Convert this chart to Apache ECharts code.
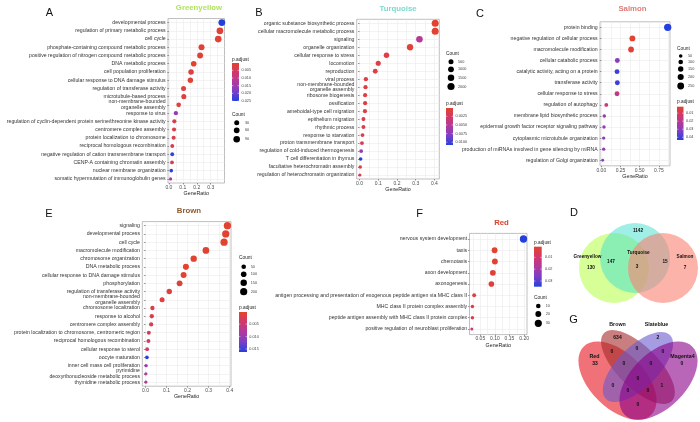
<!DOCTYPE html>
<html>
<head>
<meta charset="utf-8">
<script src="https://cdn.jsdelivr.net/npm/echarts@6.0.0/dist/echarts.min.js"></script>
<style>
html,body{margin:0;padding:0;background:#ffffff;}
#chart{width:700px;height:422px;}
</style>
</head>
<body>
<div id="chart"></div>
<script>
// ---------------- DATA ----------------
// Panel A : Greenyellow
const catsA = ['developmental process','regulation of primary metabolic process','cell cycle',
 'phosphate-containing compound metabolic process','positive regulation of nitrogen compound metabolic process',
 'DNA metabolic process','cell population proliferation','cellular response to DNA damage stimulus',
 'regulation of transferase activity','microtubule-based process','non-membrane-bounded\norganelle assembly',
 'response to virus','regulation of cyclin-dependent protein serine/threonine kinase activity',
 'centromere complex assembly','protein localization to chromosome','reciprocal homologous recombination',
 'negative regulation of cation transmembrane transport','CENP-A containing chromatin assembly',
 'nuclear membrane organization','somatic hypermutation of immunoglobulin genes'];
const ratioA = [0.380,0.366,0.354,0.234,0.224,0.178,0.159,0.154,0.105,0.107,0.070,0.050,0.039,0.037,0.034,0.024,0.024,0.022,0.017,0.012];
const padjA  = [0.0250,0.0010,0.0005,0.0010,0.0012,0.0002,0.0020,0.0008,0.0020,0.0022,0.0012,0.0160,0.0030,0.0025,0.0032,0.0040,0.0235,0.0042,0.0240,0.0130];
const tickA = ['0.0','0.1','0.2','0.3'];
const gridLineA = [0,0.05,0.1,0.15,0.2,0.25,0.3,0.35];
const countLegA = [30,60,90];
const pLegA = ['0.005','0.010','0.015','0.020','0.025'];

// Panel B : Turquoise
const catsB = ['organic substance biosynthetic process','cellular macromolecule metabolic process','signaling',
 'organelle organization','cellular response to stress','locomotion','reproduction','viral process',
 'non-membrane-bounded\norganelle assembly','ribosome biogenesis','ossification','ameboidal-type cell migration',
 'epithelium migration','rhythmic process','response to starvation','proton transmembrane transport',
 'regulation of cold-induced thermogenesis','T cell differentiation in thymus',
 'facultative heterochromatin assembly','regulation of heterochromatin organization'];
const ratioB = [0.404,0.404,0.320,0.270,0.144,0.100,0.084,0.034,0.032,0.030,0.030,0.029,0.021,0.021,0.016,0.013,0.009,0.006,0.004,0.002];
const padjB  = [0.0001,0.0003,0.0050,0.0005,0.0010,0.0010,0.0008,0.0010,0.0010,0.0008,0.0010,0.0010,0.0015,0.0015,0.0015,0.0020,0.0070,0.0108,0.0015,0.0022];
const tickB = ['0.0','0.1','0.2','0.3','0.4'];
const gridLineB = [0,0.05,0.1,0.15,0.2,0.25,0.3,0.35,0.4];
const countLegB = [500,1000,1500,2000];
const pLegB = ['0.0025','0.0050','0.0075','0.0100'];

// Panel C : Salmon
const catsC = ['protein binding','negative regulation of cellular process','macromolecule modification',
 'cellular catabolic process','catalytic activity, acting on a protein','transferase activity',
 'cellular response to stress','regulation of autophagy','membrane lipid biosynthetic process',
 'epidermal growth factor receptor signaling pathway','cytoplasmic microtubule organization',
 'production of miRNAs involved in gene silencing by miRNA','regulation of Golgi organization'];
const ratioC = [0.865,0.405,0.388,0.209,0.205,0.209,0.205,0.065,0.039,0.035,0.031,0.031,0.018];
const padjC  = [0.0434,0.0020,0.0035,0.0300,0.0400,0.0410,0.0170,0.0150,0.0270,0.0275,0.0280,0.0280,0.0310];
const tickC = ['0.00','0.25','0.50','0.75'];
const gridLineC = [0,0.125,0.25,0.375,0.5,0.625,0.75,0.875];
const countLegC = [50,100,150,200,250];
const pLegC = ['0.01','0.02','0.03','0.04'];

// Panel E : Brown
const catsE = ['signaling','developmental process','cell cycle','macromolecule modification','chromosome organization',
 'DNA metabolic process','cellular response to DNA damage stimulus','phosphorylation','regulation of transferase activity',
 'non-membrane-bounded\norganelle assembly','chromosome localization','response to alcohol','centromere complex assembly',
 'protein localization to chromosome, centromeric region','reciprocal homologous recombination','cellular response to sterol',
 'oocyte maturation','inner cell mass cell proliferation','pyrimidine\ndeoxyribonucleoside metabolic process','thymidine metabolic process'];
const ratioE = [0.389,0.381,0.373,0.287,0.229,0.192,0.181,0.162,0.113,0.079,0.033,0.030,0.027,0.016,0.014,0.008,0.007,0.003,0.002,0.002];
const padjE  = [0.0002,0.0003,0.0001,0.0005,0.0003,0.0002,0.0004,0.0008,0.0010,0.0012,0.0020,0.0020,0.0022,0.0030,0.0030,0.0040,0.0162,0.0095,0.0080,0.0080];
const tickE = ['0.0','0.1','0.2','0.3','0.4'];
const gridLineE = [0,0.05,0.1,0.15,0.2,0.25,0.3,0.35,0.4];
const countLegE = [50,100,150,200];
const pLegE = ['0.005','0.010','0.015'];

// Panel F : Red
const catsF = ['nervous system development','taxis','chemotaxis','axon development','axonogenesis',
 'antigen processing and presentation of exogenous peptide antigen via MHC class II',
 'MHC class II protein complex assembly','peptide antigen assembly with MHC class II protein complex',
 'positive regulation of neuroblast proliferation'];
const ratioF = [0.198,0.099,0.100,0.093,0.088,0.029,0.023,0.023,0.021];
const padjF  = [0.0348,0.0010,0.0012,0.0025,0.0028,0.0040,0.0050,0.0050,0.0120];
const tickF = ['0.05','0.10','0.15','0.20'];
const gridLineF = [0.025,0.05,0.075,0.1,0.125,0.15,0.175,0.2];
const countLegF = [10,20,30];
const pLegF = ['0.01','0.02','0.03'];

// Panel D : Venn (Greenyellow, Turquoise, Salmon)
const vennDSets = ['Greenyellow','Turquoise','Salmon'];
const vennDRegions = ['Greenyellow only','Turquoise only','Salmon only','Greenyellow & Turquoise','Turquoise & Salmon','all three'];
const vennDCounts = [130,1142,7,147,15,3];

// Panel G : Venn (Red, Brown, Slateblue, Magenta4)
const vennGSets = ['Red','Brown','Slateblue','Magenta4'];
const vennGRegions = ['Brown only','Slateblue only','Red only','Magenta4 only','Red&Brown','Brown&Slateblue',
 'Slateblue&Magenta4','Red&Brown&Slateblue','Brown&Slateblue&Magenta4','all four','Red&Slateblue',
 'Red&Slateblue&Magenta4','Brown&Magenta4','Red&Brown&Magenta4','Red&Magenta4'];
const vennGCounts = [634,2,33,0,0,0,0,0,0,0,0,0,1,0,0];

// ---------------- LAYOUT / STYLE ----------------
const FONT = '"Liberation Sans", Arial, Helvetica, sans-serif';
const PAL = ['#E2432F','#D2376C','#B0399E','#7A3FC6','#2340DE'];

const panels = [
 {cats:catsA, ratio:ratioA, padj:padjA, ticks:tickA, lines:gridLineA, dec:1,
  left:168, top:18.5, width:56.5, height:164.5, min:-0.0065, max:0.399, size:[3.2,6.8]},
 {cats:catsB, ratio:ratioB, padj:padjB, ticks:tickB, lines:gridLineB, dec:1,
  left:356.7, top:19.3, width:82.6, height:159.7, min:-0.015, max:0.426, size:[3.2,7.0]},
 {cats:catsC, ratio:ratioC, padj:padjC, ticks:tickC, lines:gridLineC, dec:2,
  left:600, top:21.8, width:70, height:144, min:-0.017, max:0.895, size:[2.8,7.3]},
 {cats:catsE, ratio:ratioE, padj:padjE, ticks:tickE, lines:gridLineE, dec:1,
  left:142.3, top:221.6, width:88.7, height:164.6, min:-0.015, max:0.406, size:[3.2,7.3]},
 {cats:catsF, ratio:ratioF, padj:padjF, ticks:tickF, lines:gridLineF, dec:2,
  left:469.5, top:233.4, width:57.5, height:101.2, min:0.013, max:0.21, size:[3.0,7.3]}
];

const grids = [], xAxes = [], yAxes = [], series = [], visualMaps = [];
panels.forEach(function (p, k) {
  const tickNums = p.ticks.map(parseFloat);
  const lo = Math.min.apply(null, p.ratio), hi = Math.max.apply(null, p.ratio);
  p.pmin = Math.min.apply(null, p.padj); p.pmax = Math.max.apply(null, p.padj);
  grids.push({left:p.left, top:p.top, width:p.width, height:p.height, show:true,
    borderColor:'#A3A3A3', borderWidth:0.7, backgroundColor:'rgba(0,0,0,0)', outerBoundsMode:'none'});
  xAxes.push({gridIndex:k, type:'value', position:'bottom', min:p.min, max:p.max,
    axisLine:{show:false}, axisLabel:{show:false},
    axisTick:{show:false, customValues:p.lines},
    splitLine:{show:true, lineStyle:{color:'#EBEBEB', width:0.6}}});
  xAxes.push({gridIndex:k, type:'value', position:'bottom', min:p.min, max:p.max,
    axisLine:{show:false},
    axisTick:{show:true, length:1.5, customValues:tickNums, lineStyle:{color:'#333', width:0.5}},
    axisLabel:{customValues:tickNums, fontSize:5, color:'#4D4D4D', margin:2, fontFamily:FONT,
      formatter:function (v) { return Number(v).toFixed(p.dec); }},
    splitLine:{show:false},
    name:'GeneRatio', nameLocation:'middle', nameGap:8.3,
    nameTextStyle:{fontSize:5.3, color:'#222', fontFamily:FONT}});
  yAxes.push({gridIndex:k, type:'category', data:p.cats, inverse:true,
    axisLine:{show:false},
    axisTick:{show:true, alignWithLabel:true, interval:0, length:1.5, lineStyle:{color:'#333', width:0.5}},
    axisLabel:{interval:0, fontSize:5.2, color:'#333', margin:2.3, lineHeight:5.6, fontFamily:FONT},
    splitLine:{show:true, interval:0, alignWithLabel:true, lineStyle:{color:'#EBEBEB', width:0.6}}});
  series.push({type:'scatter', xAxisIndex:2*k, yAxisIndex:k, z:3, silent:true,
    data:p.cats.map(function (c, i) { return [p.ratio[i], c, p.padj[i]]; }),
    symbolSize:function (val) {
      return p.size[0] + (p.size[1]-p.size[0]) * Math.sqrt((val[0]-lo)/(hi-lo));
    },
    itemStyle:{opacity:1}});
  visualMaps.push({type:'continuous', show:false, seriesIndex:k, dimension:2,
    min:p.pmin, max:p.pmax, inRange:{color:PAL}});
});

// ---------------- GRAPHIC (titles, legends, venns) ----------------
const G = [];
function txt(x, y, s, o) {
  o = o || {};
  G.push({type:'text', x:x, y:y, silent:true, z:20,
    style:{text:String(s), fontSize:o.size||5, fontFamily:FONT, fontWeight:o.bold?'bold':'normal',
      fill:o.color||'#222', align:o.align||'left', verticalAlign:'middle'}});
}
// panel letters
[['A',49.5,13.3],['B',259,13.3],['C',480,14],['D',574,213],['E',49,214.3],['F',419.5,214.3],['G',573.5,320]]
  .forEach(function (l) { txt(l[1], l[2], l[0], {size:11, color:'#111', align:'center'}); });
// panel titles
[['Greenyellow',199,8.3,'#B0E35C'],['Turquoise',398,9,'#7CD9CC'],['Salmon',632.5,9,'#E07B76'],
 ['Brown',189,211,'#8E5A2C'],['Red',501.5,223,'#D9432F']]
  .forEach(function (t) { txt(t[1], t[2], t[0], {size:7.8, bold:true, color:t[3], align:'center'}); });

function legend(L, p, pLabels, counts) {
  txt(L.pTitle[0], L.pTitle[1], 'p.adjust', {size:4.8});
  const bx = L.bar[0], by = L.bar[1], bw = L.bar[2], bh = L.bar[3];
  G.push({type:'rect', silent:true, z:15, shape:{x:bx, y:by, width:bw, height:bh},
    style:{fill:{type:'linear', x:0, y:0, x2:0, y2:1,
      colorStops:PAL.map(function (c, i) { return {offset:i/(PAL.length-1), color:c}; })}}});
  pLabels.forEach(function (s) {
    const y = by + (parseFloat(s) - p.pmin) / (p.pmax - p.pmin) * bh;
    txt(L.pLabX, y, s, {size:3.8, color:'#444'});
    G.push({type:'line', silent:true, z:16, shape:{x1:bx, y1:y, x2:bx+1.4, y2:y}, style:{stroke:'#fff', lineWidth:0.5}});
    G.push({type:'line', silent:true, z:16, shape:{x1:bx+bw-1.4, y1:y, x2:bx+bw, y2:y}, style:{stroke:'#fff', lineWidth:0.5}});
  });
  txt(L.cTitle[0], L.cTitle[1], 'Count', {size:4.8});
  counts.forEach(function (c, i) {
    G.push({type:'circle', silent:true, z:15, shape:{cx:L.dotX, cy:L.dotY[i], r:L.dotD[i]/2}, style:{fill:'#000'}});
    txt(L.cLabX, L.dotY[i], c, {size:3.8, color:'#444'});
  });
}
legend({pTitle:[232,60], bar:[232,63,7,38], pLabX:241.5, cTitle:[232,115], dotX:236.7,
        dotY:[122.7,130.3,139.3], dotD:[5,5.8,6.6], cLabX:245}, panels[0], pLegA, countLegA);
legend({cTitle:[446,53.3], dotX:451, dotY:[61.7,69.3,77.7,86.5], dotD:[5,5.8,6.5,7.2], cLabX:458,
        pTitle:[446,104], bar:[446,108,7,37], pLabX:455.5}, panels[1], pLegB, countLegB);
legend({cTitle:[677,49], dotX:680.7, dotY:[56,62,69,77,86], dotD:[3.6,4.6,5.4,6.1,6.8], cLabX:688,
        pTitle:[677,102], bar:[677,106.7,6.5,33.3], pLabX:686}, panels[2], pLegC, countLegC);
legend({cTitle:[239,257.7], dotX:243.7, dotY:[266.7,274.3,282.7,291.7], dotD:[4.6,5.6,6.4,7.2], cLabX:250.7,
        pTitle:[239,307.7], bar:[239,312,8,40], pLabX:249.3}, panels[3], pLegE, countLegE);
legend({pTitle:[534,242.3], bar:[534,246.7,7.7,40], pLabX:545, cTitle:[534,298], dotX:538.3,
        dotY:[306,314,323.3], dotD:[4.6,5.9,7.2], cLabX:545.7}, panels[4], pLegF, countLegF);

// Venn D
const vennDCircles = [[614,268,35,'rgba(173,255,47,0.5)'],[635,258,35,'rgba(64,224,208,0.5)'],[663,268,35,'rgba(250,128,114,0.6)']];
vennDCircles.forEach(function (c) {
  G.push({type:'circle', silent:true, z:8, shape:{cx:c[0], cy:c[1], r:c[2]}, style:{fill:c[3]}});
});
const vennDSetPos = [[587.5,257],[638.5,253],[685,257]];
vennDSets.forEach(function (s, i) { txt(vennDSetPos[i][0], vennDSetPos[i][1], s, {size:4.7, bold:true, color:'#111', align:'center'}); });
const vennDPos = [[591,268],[638,231],[685,268],[611,262],[665,262],[637,266.5]];
vennDCounts.forEach(function (v, i) { txt(vennDPos[i][0], vennDPos[i][1], v, {size:4.7, bold:true, color:'#111', align:'center'}); });

// Venn G (four ellipses)
const vennGEll = [
  [617.5,380.7,48,27.4,-Math.PI/4,'rgba(230,20,30,0.6)'],
  [638,367,48,20.5,-Math.PI/4,'rgba(165,42,42,0.6)'],
  [638,367,45.2,20.5,Math.PI/4,'rgba(106,90,205,0.6)'],
  [658.5,380.7,48,27.4,Math.PI/4,'rgba(139,0,139,0.6)']];
vennGEll.forEach(function (e) {
  G.push({type:'ellipse', silent:true, z:8, x:e[0], y:e[1], rotation:e[4],
    shape:{cx:0, cy:0, rx:e[2], ry:e[3]}, style:{fill:e[5]}});
});
const vennGSetPos = [[594.5,357],[617.5,325],[656.5,325],[682.5,357]];
vennGSets.forEach(function (s, i) { txt(vennGSetPos[i][0], vennGSetPos[i][1], s, {size:5.3, bold:true, color:'#111', align:'center'}); });
const vennGPos = [[617.5,338],[658,338],[595,364],[682,364],[612,352],[637,349],[663,352],[624,364],
  [651,364],[638,379],[613,386],[628,391],[662,386],[648,391],[638,405]];
vennGCounts.forEach(function (v, i) { txt(vennGPos[i][0], vennGPos[i][1], v, {size:5, bold:true, color:'#111', align:'center'}); });

// ---------------- CHART ----------------
const chart = echarts.init(document.getElementById('chart'), null, {renderer:'canvas'});
chart.setOption({
  animation:false,
  backgroundColor:'#ffffff',
  grid:grids, xAxis:xAxes, yAxis:yAxes, series:series, visualMap:visualMaps,
  graphic:{elements:G}
});
</script>
</body>
</html>
